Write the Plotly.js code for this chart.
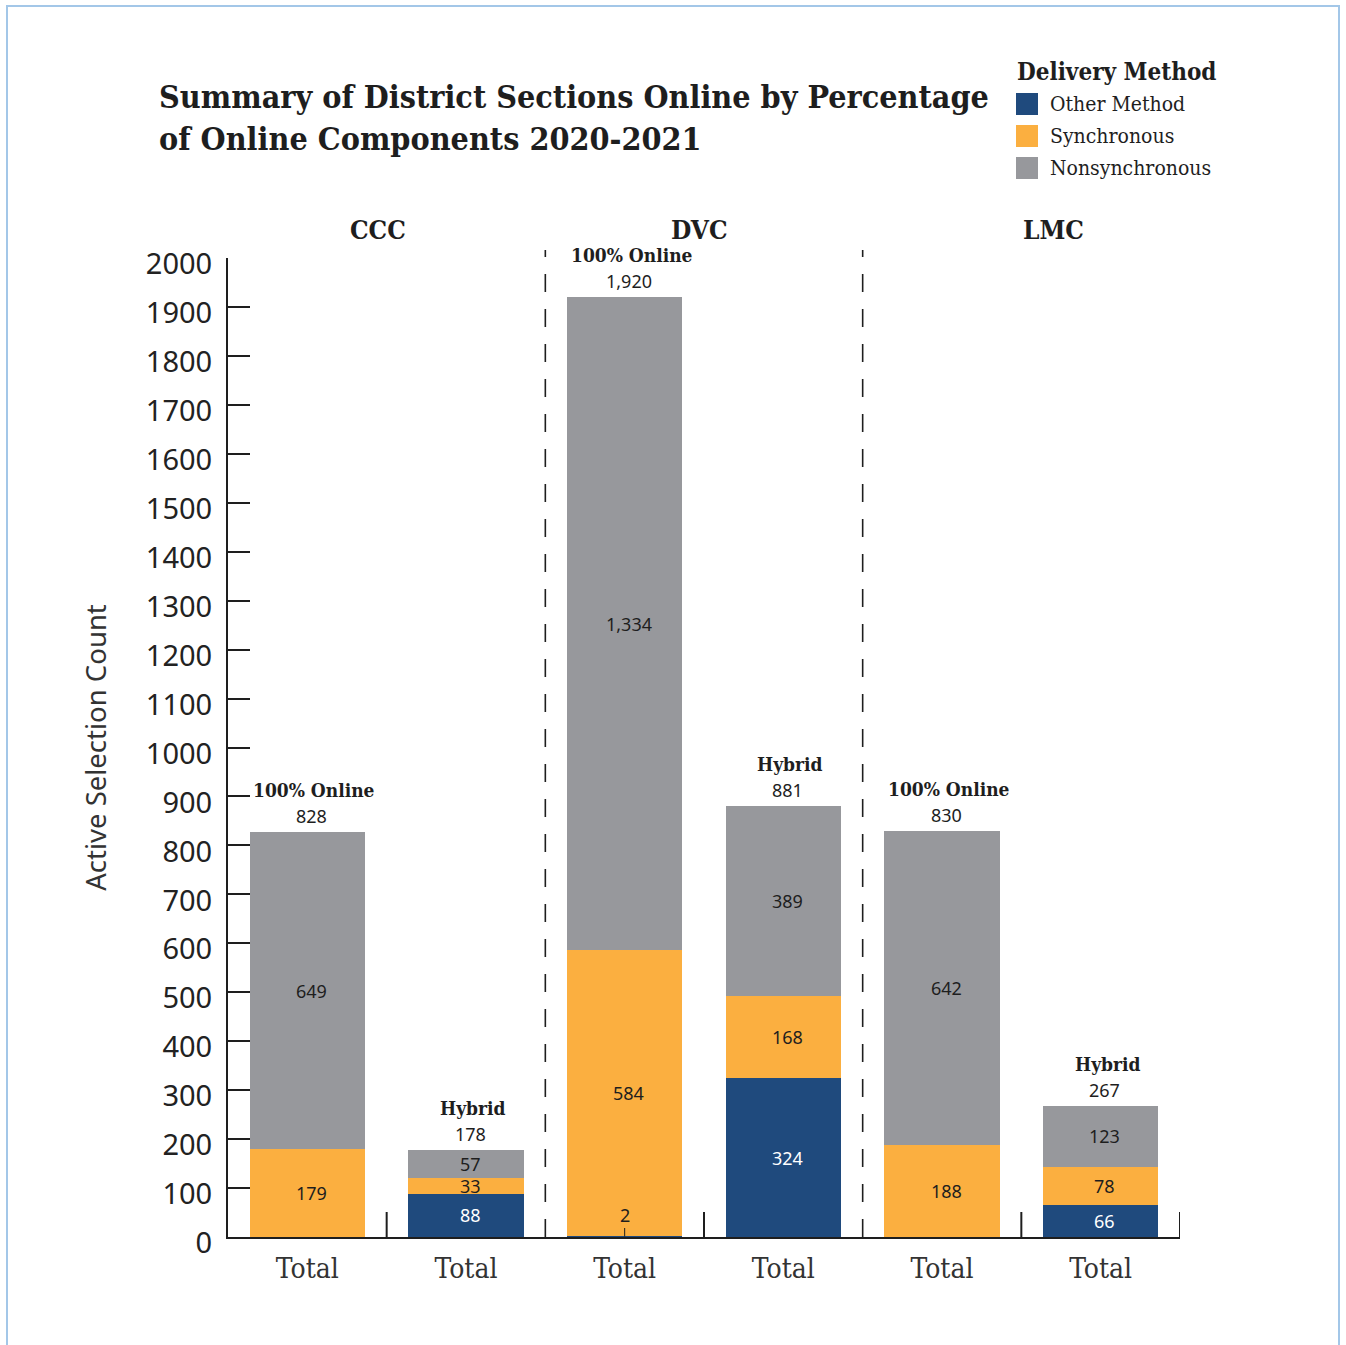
<!DOCTYPE html>
<html>
<head>
<meta charset="utf-8">
<script src="https://cdn.plot.ly/plotly-3.0.1.min.js"></script>
<style>
  html, body { margin: 0; padding: 0; background: #ffffff; overflow: hidden; }
  #frame { position: absolute; left: 6px; top: 5px; width: 1334px; height: 1400px;
           border: 2px solid #a3c7e8; box-sizing: border-box; }
  #chart { position: absolute; left: 0; top: 0; width: 1346px; height: 1345px; }
</style>
</head>
<body>
<div id="frame"></div>
<div id="chart"></div>
<script>
// ---- data -------------------------------------------------------------
const colleges = ['CCC', 'DVC', 'LMC'];
const sectionTypes = ['100% Online', 'Hybrid', '100% Online', 'Hybrid', '100% Online', 'Hybrid'];
const tickLabels = ['Total', 'Total', 'Total', 'Total', 'Total', 'Total'];
const seriesNames = ['Other Method', 'Synchronous', 'Nonsynchronous'];
const otherMethod    = [0,   88, 2,    324, 0,   66];
const synchronous    = [179, 33, 584,  168, 188, 78];
const nonsynchronous = [649, 57, 1334, 389, 642, 123];
const legendTitle = 'Delivery Method';
const chartTitle = 'Summary of District Sections Online by Percentage<br>of Online Components 2020-2021';
const yTitle = 'Active Selection Count';

// ---- styling ----------------------------------------------------------
const colors = ['#1f4a7d', '#fbaf40', '#97989c'];
const serif = '"DejaVu Serif Condensed", "DejaVu Serif", serif';
const sans = '"Noto Sans", "Open Sans", sans-serif';
const ink = '#1e1e1e';

const W = 1346, H = 1345;
const M = { l: 228, r: 166, t: 258, b: 108 };
const PW = W - M.l - M.r, PH = H - M.t - M.b;
const px = v => (v - M.l) / PW;          // page px -> paper x
const py = v => (H - M.b - v) / PH;      // page px -> paper y

const xs = tickLabels.map((_, i) => i);
const series = [otherMethod, synchronous, nonsynchronous];

const traces = series.map((vals, k) => ({
  type: 'bar',
  name: seriesNames[k],
  x: xs,
  y: vals,
  width: 0.725,
  marker: { color: colors[k], line: { width: 0 } },
  hoverinfo: 'name+y',
  showlegend: false
}));

const annotations = [];
const fmt = n => n.toLocaleString('en-US');

// segment labels
xs.forEach(i => {
  let base = 0;
  series.forEach((vals, k) => {
    const v = vals[i];
    if (v > 0) {
      const col = k === 0 ? '#ffffff' : ink;
      if (v < 10) {
        annotations.push({
          x: i, y: base + v / 2, xref: 'x', yref: 'y',
          text: fmt(v), showarrow: true, arrowhead: 0, arrowwidth: 1,
          arrowcolor: ink, ax: 0, ay: -22, standoff: 0,
          font: { family: sans, size: 18, color: ink }
        });
      } else {
        annotations.push({
          x: i, y: base + v / 2, xref: 'x', yref: 'y', xshift: 4,
          text: fmt(v), showarrow: false,
          font: { family: sans, size: 18, color: col }
        });
      }
    }
    base += v;
  });
  // totals and section type above the bar
  const total = series.reduce((s, vals) => s + vals[i], 0);
  annotations.push({
    x: i, y: total, xref: 'x', yref: 'y', yshift: 16, xshift: 4,
    text: fmt(total), showarrow: false, yanchor: 'middle',
    font: { family: sans, size: 18, color: ink }
  });
  annotations.push({
    x: i, y: total, xref: 'x', yref: 'y', yshift: 42, xshift: 7,
    text: '<b>' + sectionTypes[i] + '</b>', showarrow: false, yanchor: 'middle',
    font: { family: serif, size: 19, color: ink }
  });
});

// college headings
const headingX = [378, 699, 1053];
colleges.forEach((c, j) => {
  annotations.push({
    x: px(headingX[j]), y: py(230), xref: 'paper', yref: 'paper',
    text: '<b>' + c + '</b>', showarrow: false, xanchor: 'center', yanchor: 'middle',
    font: { family: serif, size: 26, color: ink }
  });
});

// legend
annotations.push({
  x: px(1015), y: py(72), xref: 'paper', yref: 'paper',
  text: '<b>' + legendTitle + '</b>', showarrow: false, xanchor: 'left', yanchor: 'middle',
  font: { family: serif, size: 24, color: ink }
});
const legendRows = [104, 136, 168];
const shapes = [];
seriesNames.forEach((n, k) => {
  annotations.push({
    x: px(1048), y: py(legendRows[k]), xref: 'paper', yref: 'paper',
    text: n, showarrow: false, xanchor: 'left', yanchor: 'middle',
    font: { family: serif, size: 21, color: ink }
  });
  shapes.push({
    type: 'rect', xref: 'paper', yref: 'paper',
    x0: px(1016), x1: px(1038), y0: py(legendRows[k] - 11), y1: py(legendRows[k] + 11),
    fillcolor: colors[k], line: { width: 0 }
  });
});

// dashed separators between colleges
[1.5, 3.5].forEach(x => {
  shapes.push({
    type: 'line', xref: 'x', yref: 'paper', x0: x, x1: x, y0: 0, y1: py(250),
    line: { color: ink, width: 1.6, dash: '18px,17px' }
  });
});
// short ticks between bars on the baseline
[0.5, 2.5, 4.5, 5.5].forEach(x => {
  shapes.push({
    type: 'line', xref: 'x', yref: 'paper', x0: x, x1: x, y0: 0, y1: py(1212),
    line: { color: ink, width: 2 }
  });
});

const layout = {
  width: W, height: H,
  margin: M,
  paper_bgcolor: 'rgba(0,0,0,0)',
  plot_bgcolor: 'rgba(0,0,0,0)',
  barmode: 'stack',
  showlegend: false,
  title: {
    text: '<b>' + chartTitle + '</b>',
    x: 159 / W, xanchor: 'left', xref: 'container',
    y: 1 - 108 / H, yanchor: 'top', yref: 'container',
    font: { family: serif, size: 32, color: ink }
  },
  xaxis: {
    range: [-0.5, 5.5],
    tickvals: xs, ticktext: tickLabels,
    showline: true, linecolor: ink, linewidth: 2,
    ticks: '', showgrid: false, zeroline: false,
    ticklabelstandoff: 5,
    tickfont: { family: serif, size: 28, color: '#333333' },
    automargin: false
  },
  yaxis: {
    range: [0, 2000],
    dtick: 100, tick0: 0,
    ticks: 'inside', ticklen: 22, tickwidth: 2, tickcolor: ink,
    showline: true, linecolor: ink, linewidth: 2,
    showgrid: false, zeroline: false,
    ticklabelstandoff: 8,
    ticklabelshift: 6,
    tickfont: { family: sans, size: 29, color: '#222222' },
    title: { text: yTitle, standoff: 31, font: { family: sans, size: 27.5, color: '#333333' } },
    automargin: false
  },
  annotations: annotations,
  shapes: shapes
};

Plotly.newPlot('chart', traces, layout, { displayModeBar: false, staticPlot: true });
</script>
</body>
</html>
